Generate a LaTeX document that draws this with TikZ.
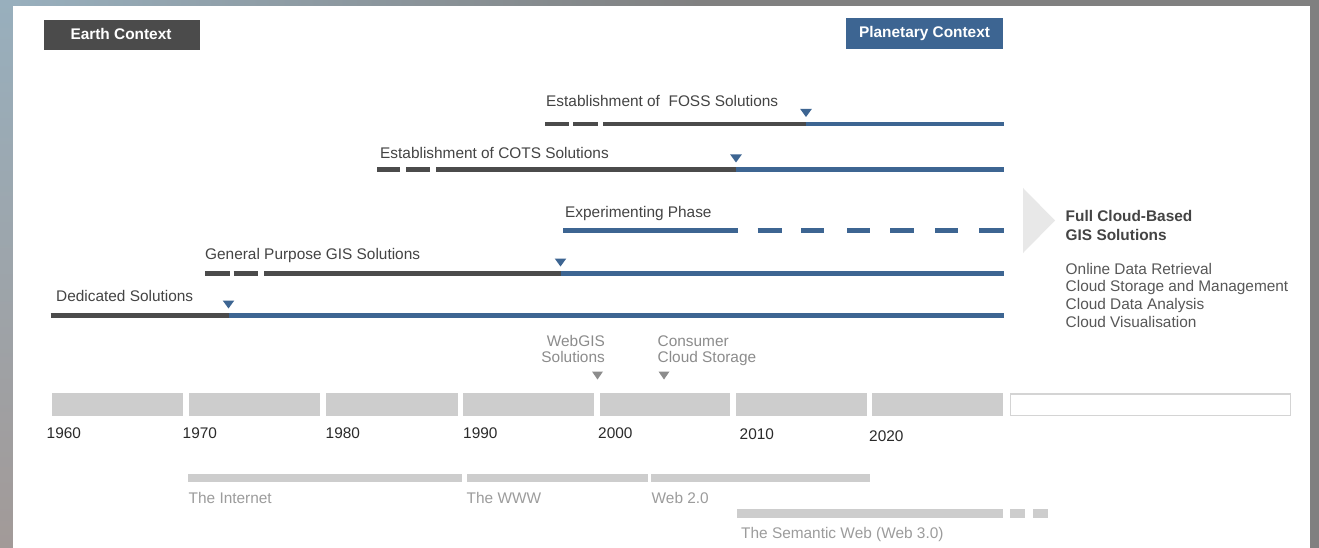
\documentclass[tikz,border=0pt]{standalone}
\usepackage{fontspec}
\setmainfont{Liberation Sans}
\definecolor{darkline}{HTML}{4B4B4B}
\definecolor{blueline}{HTML}{3D6592}
\definecolor{txt}{HTML}{444444}
\definecolor{yeartxt}{HTML}{2A2A2A}
\definecolor{bar}{HTML}{CDCDCD}
\definecolor{webtxt}{HTML}{9C9C9C}
\definecolor{evtxt}{HTML}{8C8C8C}
\definecolor{arrowgrey}{HTML}{E8E8E8}
\definecolor{edgeblue}{HTML}{98AFBD}
\definecolor{edgepink}{HTML}{A29A98}
\definecolor{edgegrey}{HTML}{808080}
\newcommand\tlfont{\fontsize{15.4}{18}\selectfont}
\tikzset{
  lbl/.style={anchor=base west, inner sep=0pt, font=\tlfont, text=txt},
  lblr/.style={anchor=base east, inner sep=0pt, font=\tlfont, text=evtxt},
  evl/.style={anchor=base west, inner sep=0pt, font=\tlfont, text=evtxt},
  year/.style={anchor=base west, inner sep=0pt, font=\tlfont, text=yeartxt},
  webl/.style={anchor=base west, inner sep=0pt, font=\tlfont, text=webtxt},
  tl/.style={line width=4.6pt},
  mk/.pic={\fill (-5.8,-15) -- (5.8,-15) -- (0,-7) -- cycle;},
  evmk/.pic={\fill (-5.5,-4) -- (5.5,-4) -- (0,4) -- cycle;}
}
\begin{document}
\begin{tikzpicture}[x=1pt,y=-1pt]
\useasboundingbox (0,0) rectangle (1319,548);
% frame
\shade[top color=edgeblue, bottom color=edgepink] (0,0) rectangle (13,548);
\shade[left color=edgeblue, right color=edgegrey] (13,0) rectangle (700,6);
\fill[edgegrey] (700,0) rectangle (1319,6);
\fill[edgegrey] (1310,0) rectangle (1319,548);
\fill[white] (13,6) rectangle (1310,548);

% context boxes
\fill[darkline] (44,20) rectangle (200,50.5);
\node[anchor=base, inner sep=0pt, font=\tlfont\bfseries, text=white] (earth) at (121,40) {Earth Context};
\fill[blueline] (846,18) rectangle (1002.5,49);
\node[anchor=base, inner sep=0pt, font=\tlfont\bfseries, text=white] (planet) at (924.5,37.5) {Planetary Context};

% FOSS
\node[lbl] (foss) at (546,107) {Establishment of\ \ FOSS Solutions};
\draw[tl, darkline] (545,124) -- (569,124);
\draw[tl, darkline] (573,124) -- (598,124);
\draw[tl, darkline] (603,124) -- (806,124);
\draw[tl, blueline] (806,124) -- (1003.5,124);
\pic[blueline] at (806,124) {mk};

% COTS
\node[lbl] (cots) at (380,159) {Establishment of COTS Solutions};
\draw[tl, darkline] (377,169.5) -- (400,169.5);
\draw[tl, darkline] (406,169.5) -- (430,169.5);
\draw[tl, darkline] (436,169.5) -- (736,169.5);
\draw[tl, blueline] (736,169.5) -- (1003.5,169.5);
\pic[blueline] at (736,169.5) {mk};

% Experimenting
\node[lbl] (exp) at (565,217) {Experimenting Phase};
\draw[tl, blueline] (563,230.5) -- (738,230.5);
\foreach \a/\b in {757.5/782, 801/824, 847/870, 890/914, 935/958, 979/1003.5}
  \draw[tl, blueline] (\a,230.5) -- (\b,230.5);

% General purpose
\node[lbl] (gp) at (205,259) {General Purpose GIS Solutions};
\draw[tl, darkline] (205,273.5) -- (229.5,273.5);
\draw[tl, darkline] (233.5,273.5) -- (257.5,273.5);
\draw[tl, darkline] (264,273.5) -- (560.5,273.5);
\draw[tl, blueline] (560.5,273.5) -- (1003.5,273.5);
\pic[blueline] at (560.5,273.5) {mk};

% Dedicated
\node[lbl] (ded) at (56,301.5) {Dedicated Solutions};
\draw[tl, darkline] (50.5,315.5) -- (228.5,315.5);
\draw[tl, blueline] (228.5,315.5) -- (1003.5,315.5);
\pic[blueline] at (228.5,315.5) {mk};

% big arrow and cloud text
\fill[arrowgrey] (1023,188) -- (1055,220.5) -- (1023,253) -- cycle;
\node[lbl, font=\tlfont\bfseries] (full1) at (1065.5,221.7) {Full Cloud-Based};
\node[lbl, font=\tlfont\bfseries] (full2) at (1065.5,240) {GIS Solutions};
\node[lbl, text=txt!90] (c1) at (1065.5,274) {Online Data Retrieval};
\node[lbl, text=txt!90] (c2) at (1065.5,291.8) {Cloud Storage and Management};
\node[lbl, text=txt!90] (c3) at (1065.5,309.5) {Cloud Data Analysis};
\node[lbl, text=txt!90] (c4) at (1065.5,327.2) {Cloud Visualisation};

% events
\node[lblr] (wg1) at (605,346) {WebGIS};
\node[lblr] (wg2) at (605,362.5) {Solutions};
\pic[evtxt] at (597.5,375.5) {evmk};
\node[evl] (cc1) at (657.5,346) {Consumer};
\node[evl] (cc2) at (657.5,362.5) {Cloud Storage};
\pic[evtxt] at (664,375.5) {evmk};

% timeline
\foreach \a/\b in {51.5/183, 188.5/320, 325.5/457.5, 463/594, 599.5/730, 736/867, 872/1002.5}
  \fill[bar] (\a,393) rectangle (\b,415.5);
\draw[bar!85, line width=1.6pt, fill=white] (1010.5,394) rectangle (1290.5,415.5);

\node[year] (y1960) at (46.5,438) {1960};
\node[year] (y1970) at (182.5,438) {1970};
\node[year] (y1980) at (325.5,438) {1980};
\node[year] (y1990) at (463,438) {1990};
\node[year] (y2000) at (598,438) {2000};
\node[year] (y2010) at (739.5,439) {2010};
\node[year] (y2020) at (869,441.5) {2020};

% web eras
\fill[bar] (187.5,473.5) rectangle (462,482);
\fill[bar] (466.5,473.5) rectangle (647.5,482);
\fill[bar] (650.5,473.5) rectangle (870,482);
\fill[bar] (737,509) rectangle (1003,517.5);
\fill[bar] (1010,509) rectangle (1024.5,517.5);
\fill[bar] (1033,509) rectangle (1048,517.5);
\node[webl] (inet) at (188.5,503) {The Internet};
\node[webl] (www) at (466.5,503) {The WWW};
\node[webl] (web2) at (651.5,503) {Web 2.0};
\node[webl] (web3) at (741,538) {The Semantic Web (Web 3.0)};
\end{tikzpicture}
\end{document}
